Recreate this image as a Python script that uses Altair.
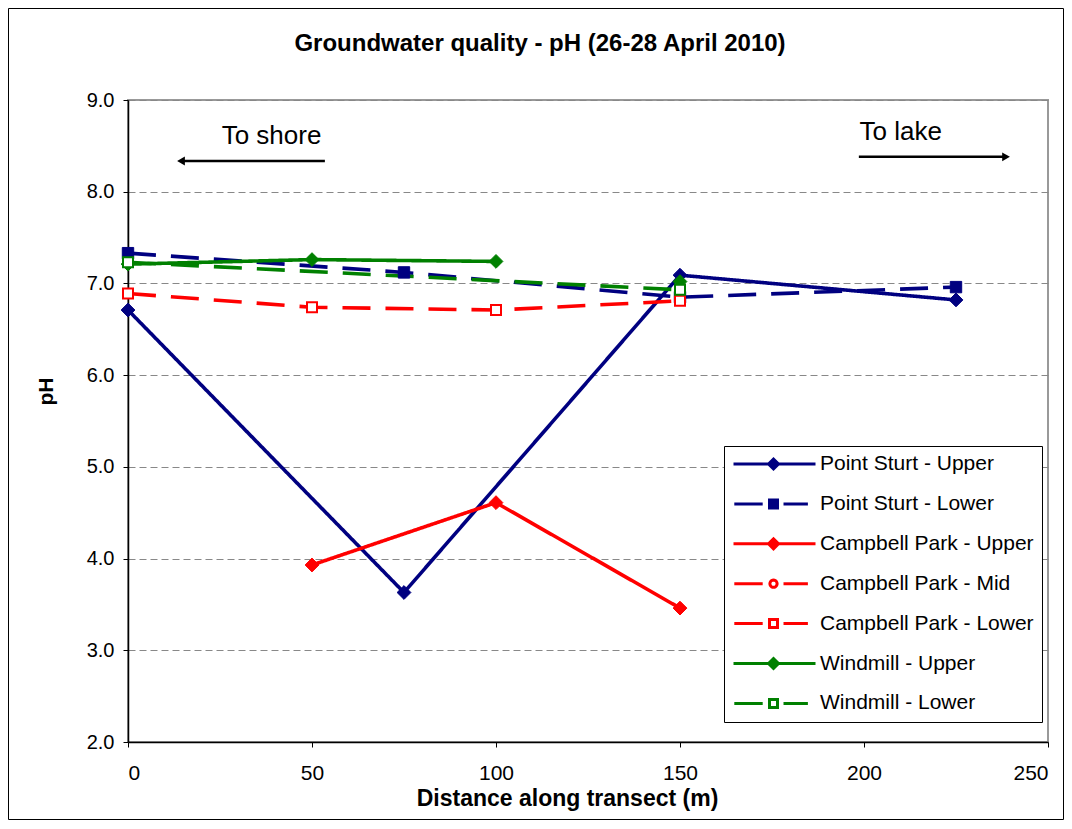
import math
import altair as alt
import pandas as pd

FONT = "Liberation Sans"

# ---------------- data ----------------
series_names = [
    "Point Sturt - Upper",
    "Point Sturt - Lower",
    "Campbell Park - Upper",
    "Campbell Park - Mid",
    "Campbell Park - Lower",
    "Windmill - Upper",
    "Windmill - Lower",
]

ps_upper_x = [0, 75, 150, 225]
ps_upper_y = [6.71, 3.63, 7.09, 6.82]

ps_lower_x = [0, 75, 150, 225]
ps_lower_y = [7.33, 7.12, 6.85, 6.96]

cp_upper_x = [50, 100, 150]
cp_upper_y = [3.93, 4.61, 3.46]

cp_mid_x = []
cp_mid_y = []

cp_lower_x = [0, 50, 100, 150]
cp_lower_y = [6.89, 6.74, 6.71, 6.81]

wm_upper_x = [0, 50, 100, 125, 150]
wm_upper_y = [7.21, 7.26, 7.24, None, 7.02]

wm_lower_x = [0, 150]
wm_lower_y = [7.23, 6.93]

x_ticks = [0, 50, 100, 150, 200, 250]
y_ticks = [2, 3, 4, 5, 6, 7, 8, 9]

note_text = ["To shore", "To lake"]
note_x = [39, 210]
note_y = [8.61, 8.65]
arrow_from_x = [53.5, 198.6]
arrow_to_x = [14.4, 238.6]
arrow_y = [8.335, 8.38]
arrow_head = ["triangle-left", "triangle-right"]

# ---------------- styles ----------------
NAVY, RED, GREEN = "#000080", "#FF0000", "#008000"
style = {
    "Point Sturt - Upper": dict(color=NAVY, dash="solid", marker="diamond", open=False),
    "Point Sturt - Lower": dict(color=NAVY, dash="dashed", marker="square", open=False),
    "Campbell Park - Upper": dict(color=RED, dash="solid", marker="diamond", open=False),
    "Campbell Park - Mid": dict(color=RED, dash="dashed", marker="circle", open=True),
    "Campbell Park - Lower": dict(color=RED, dash="dashed", marker="square", open=True),
    "Windmill - Upper": dict(color=GREEN, dash="solid", marker="diamond", open=False),
    "Windmill - Lower": dict(color=GREEN, dash="dashed", marker="square", open=True),
}
series_data = {
    "Point Sturt - Upper": (ps_upper_x, ps_upper_y),
    "Point Sturt - Lower": (ps_lower_x, ps_lower_y),
    "Campbell Park - Upper": (cp_upper_x, cp_upper_y),
    "Campbell Park - Mid": (cp_mid_x, cp_mid_y),
    "Campbell Park - Lower": (cp_lower_x, cp_lower_y),
    "Windmill - Upper": (wm_upper_x, wm_upper_y),
    "Windmill - Lower": (wm_lower_x, wm_lower_y),
}

rows = []
for name in series_names:
    xs, ys = series_data[name]
    st = style[name]
    seg = 0
    for x, y in zip(xs, ys):
        if y is None:
            seg += 1
            continue
        if st["marker"] == "diamond":
            size, sw = 190, 1
        elif st["open"]:
            size, sw = 100, 2
        else:
            size, sw = 130, 1
        rows.append(dict(
            series=name, seg=f"{name}#{seg}", x=x, y=y,
            stroke=st["color"], fill=("white" if st["open"] else st["color"]),
            shape=st["marker"], size=size, sw=sw, dash=st["dash"],
        ))
df = pd.DataFrame(rows)


def legend_path(marker, dashed):
    line = "M-0.98,0L-0.27,0M0.25,0L0.86,0" if dashed else "M-1,0L1.05,0"
    if marker == "diamond":
        m = "M-0.125,0L0,-0.125L0.125,0L0,0.125Z"
    elif marker == "square":
        m = "M-0.1,-0.1L0.1,-0.1L0.1,0.1L-0.1,0.1Z"
    else:
        pts = []
        for i in range(24):
            a = 2 * math.pi * i / 24
            pts.append(f"{0.09*math.cos(a):.4f},{0.09*math.sin(a):.4f}")
        m = "M" + "L".join(pts) + "Z"
    return line + m


legend_shapes = [legend_path(style[n]["marker"], style[n]["dash"] == "dashed") for n in series_names]
legend_fills = [("white" if style[n]["open"] else style[n]["color"]) for n in series_names]
legend_strokes = [style[n]["color"] for n in series_names]

notes = pd.DataFrame(dict(text=note_text, x=note_x, y=note_y))
arrows = pd.DataFrame(dict(x=arrow_from_x, x2=arrow_to_x, y=arrow_y, head=arrow_head))
legend_df = pd.DataFrame(dict(series=series_names))

# ---------------- chart ----------------
xscale = alt.Scale(domain=[0, 250], nice=False, zero=False)
yscale = alt.Scale(domain=[2, 9], nice=False, zero=False)

x_enc = alt.X(
    "x:Q", scale=xscale,
    axis=alt.Axis(
        values=x_ticks, format="d", title="Distance along transect (m)", grid=False,
        labelFontSize=21, labelPadding=15, tickSize=5,
        titleFontSize=23, titleFontWeight="bold", titleX=439, titleY=63,
        titleBaseline="alphabetic", titleAlign="center",
    ),
)
y_enc = alt.Y(
    "y:Q", scale=yscale,
    axis=alt.Axis(
        values=y_ticks, format=".1f", title="pH", grid=True,
        gridDash=[7, 4], gridColor="#888888", gridWidth=1,
        labelFontSize=20, labelPadding=9, tickSize=5,
        titleFontSize=21, titleFontWeight="bold", titleX=-76, titleY=291,
        titleBaseline="alphabetic", titleAlign="center", titleAngle=270,
    ),
)

frame = alt.Chart(alt.Data(values=[{"a": 1}])).mark_rect(
    filled=False, stroke="black", strokeWidth=1
).encode(
    x=alt.value(-119.5), x2=alt.value(935.5), y=alt.value(-91.5), y2=alt.value(719.5)
)

lines = alt.Chart(df).mark_line(strokeWidth=3.6).encode(
    x=x_enc, y=y_enc,
    stroke=alt.Stroke("stroke:N", scale=None),
    strokeDash=alt.StrokeDash(
        "dash:N",
        scale=alt.Scale(domain=["solid", "dashed"], range=[[1, 0], [28, 15]]),
        legend=None,
    ),
    detail="seg:N",
    order="x:Q",
)

points = alt.Chart(df).mark_point(opacity=1).encode(
    x="x:Q", y="y:Q",
    shape=alt.Shape("shape:N", scale=None),
    fill=alt.Fill("fill:N", scale=None),
    stroke=alt.Stroke("stroke:N", scale=None),
    size=alt.Size("size:Q", scale=None),
    strokeWidth=alt.StrokeWidth("sw:Q", scale=None),
)

leg = alt.Legend(
    title=None, orient="none", legendX=596, legendY=346,
    strokeColor="black", fillColor="white", padding=8,
    symbolSize=6400, symbolStrokeWidth=3, symbolOpacity=1,
    labelFontSize=21, labelFont=FONT, labelColor="black", labelOffset=5,
    clipHeight=20, rowPadding=18.9, labelLimit=400, cornerRadius=0,
)
legend_layer = alt.Chart(legend_df).mark_point(opacity=1, clip=True).encode(
    x=alt.value(0), y=alt.value(-100),
    shape=alt.Shape("series:N", scale=alt.Scale(domain=series_names, range=legend_shapes), legend=leg),
    fill=alt.Fill("series:N", scale=alt.Scale(domain=series_names, range=legend_fills), legend=leg),
    stroke=alt.Stroke("series:N", scale=alt.Scale(domain=series_names, range=legend_strokes), legend=leg),
)

note_layer = alt.Chart(notes).mark_text(
    font=FONT, fontSize=26, color="black", align="center", baseline="middle"
).encode(x="x:Q", y="y:Q", text="text:N")

arrow_rule = alt.Chart(arrows).mark_rule(color="black", strokeWidth=2.5).encode(
    x="x:Q", x2="x2:Q", y="y:Q"
)
arrow_heads = alt.Chart(arrows).mark_point(filled=True, color="black", opacity=1, size=80).encode(
    x="x2:Q", y="y:Q", shape=alt.Shape("head:N", scale=None)
)

chart = alt.layer(
    frame, lines, points, legend_layer, note_layer, arrow_rule, arrow_heads
).resolve_scale(
    shape="independent", fill="independent", stroke="independent"
).properties(
    width=920, height=642,
    title=alt.Title(
        text="Groundwater quality - pH (26-28 April 2010)",
        font=FONT, fontSize=24, fontWeight="bold", color="black",
        anchor="middle", frame="group", dx=-48, baseline="alphabetic",
        offset=0, dy=67,
    ),
    autosize=alt.AutoSizeParams(type="none"),
    padding={"left": 120, "top": 92, "right": 16, "bottom": 78},
).configure_view(
    stroke="#999999", strokeWidth=2
).configure_axis(
    labelFont=FONT, titleFont=FONT, labelColor="black", titleColor="black",
    domainColor="black", domainWidth=1.5, tickColor="black", tickWidth=1,
)

chart.save("out.html", embed_options={"renderer": "svg", "actions": False})
